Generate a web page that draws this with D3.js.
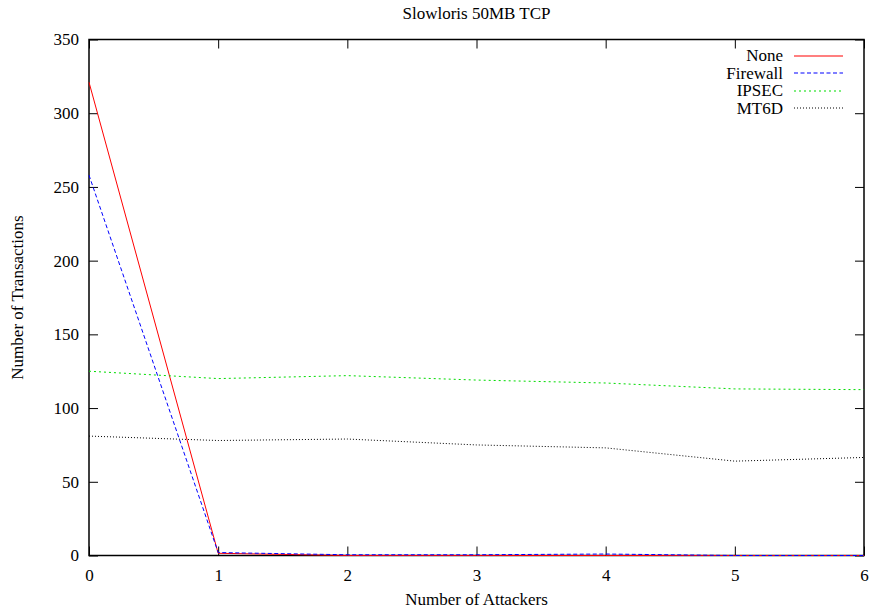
<!DOCTYPE html>
<html>
<head>
<meta charset="utf-8">
<script src="https://cdn.jsdelivr.net/npm/d3@7"></script>
<style>
  body { margin: 0; background: #fff; }
  svg text { font-family: "Liberation Serif", "DejaVu Serif", serif; fill: #000; }
</style>
</head>
<body>
<svg id="chart" width="870" height="610"></svg>
<script>
// Number of attackers on the x axis
const attackers = [0, 1, 2, 3, 4, 5, 6];

// Transactions completed per configuration
const noneVals     = [321, 1.5, 0, 0, 0, 0, 0];
const firewallVals = [258, 2, 0.5, 0.5, 1, 0, 0];
const ipsecVals    = [125, 120, 122, 119, 117, 113, 112.5];
const mt6dVals     = [81, 78, 79, 75, 73, 64, 66.5];

const seriesNames = ["None", "Firewall", "IPSEC", "MT6D"];
const yTicks = [0, 50, 100, 150, 200, 250, 300, 350];
const xTicks = [0, 1, 2, 3, 4, 5, 6];

const svg = d3.select("#chart");
const plotLeft = 89, plotRight = 864, plotTop = 39.5, plotBottom = 555.5;

const x = d3.scaleLinear().domain([0, 6]).range([plotLeft, plotRight]);
const y = d3.scaleLinear().domain([0, 350]).range([plotBottom, plotTop]);

const series = [
  { name: seriesNames[0], values: noneVals,     color: "#ff0000", dash: "none" },
  { name: seriesNames[1], values: firewallVals, color: "#0000ff", dash: "4,2.5" },
  { name: seriesNames[2], values: ipsecVals,    color: "#00dd00", dash: "2,3" },
  { name: seriesNames[3], values: mt6dVals,     color: "#000000", dash: "1,2" }
];

const fontSize = 17;
const tickLen = 9;

// Axes with inward ticks, mirrored on the opposite side
const axisL = d3.axisLeft(y).tickValues(yTicks).tickFormat(d3.format("d"))
  .tickSizeInner(-tickLen).tickSizeOuter(0).tickPadding(10);
const axisR = d3.axisRight(y).tickValues(yTicks).tickSizeInner(-tickLen).tickSizeOuter(0).tickFormat("");
const axisB = d3.axisBottom(x).tickValues(xTicks).tickFormat(d3.format("d"))
  .tickSizeInner(-tickLen).tickSizeOuter(0).tickPadding(13);
const axisT = d3.axisTop(x).tickValues(xTicks).tickSizeInner(-tickLen).tickSizeOuter(0).tickFormat("");

function styleAxis(g) {
  g.select(".domain").remove();
  g.selectAll(".tick line").attr("stroke", "#000").attr("stroke-width", 1);
  g.selectAll(".tick text").attr("font-size", fontSize).attr("font-family", "Liberation Serif");
}

svg.append("g").attr("transform", `translate(${plotLeft},0)`).call(axisL).call(styleAxis);
svg.append("g").attr("transform", `translate(${plotRight},0)`).call(axisR).call(styleAxis);
svg.append("g").attr("transform", `translate(0,${plotBottom})`).call(axisB).call(styleAxis);
svg.append("g").attr("transform", `translate(0,${plotTop})`).call(axisT).call(styleAxis);

// Plot frame
svg.append("rect")
  .attr("x", plotLeft).attr("y", plotTop)
  .attr("width", plotRight - plotLeft).attr("height", plotBottom - plotTop)
  .attr("fill", "none").attr("stroke", "#000").attr("stroke-width", 1.5);

// Series lines
const line = d3.line().x((d, i) => x(attackers[i])).y(d => y(d));
series.forEach(s => {
  svg.append("path")
    .datum(s.values)
    .attr("d", line)
    .attr("fill", "none")
    .attr("stroke", s.color)
    .attr("stroke-width", 1)
    .attr("stroke-dasharray", s.dash);
});

// Legend
const legend = svg.append("g");
series.forEach((s, i) => {
  const ly = 55.5 + i * 17.5;
  legend.append("text")
    .attr("x", 783).attr("y", ly)
    .attr("dy", "0.35em")
    .attr("text-anchor", "end")
    .attr("font-size", fontSize)
    .text(s.name);
  legend.append("line")
    .attr("x1", 794).attr("x2", 843)
    .attr("y1", Math.round(ly)).attr("y2", Math.round(ly))
    .attr("stroke", s.color)
    .attr("stroke-width", 1.2)
    .attr("stroke-dasharray", s.dash);
});

// Title and axis labels
svg.append("text")
  .attr("x", (plotLeft + plotRight) / 2).attr("y", 19)
  .attr("text-anchor", "middle").attr("font-size", fontSize)
  .text("Slowloris 50MB TCP");

svg.append("text")
  .attr("x", (plotLeft + plotRight) / 2).attr("y", 605)
  .attr("text-anchor", "middle").attr("font-size", fontSize)
  .text("Number of Attackers");

svg.append("text")
  .attr("transform", `translate(23,${(plotTop + plotBottom) / 2}) rotate(-90)`)
  .attr("text-anchor", "middle").attr("font-size", fontSize)
  .text("Number of Transactions");
</script>
</body>
</html>
